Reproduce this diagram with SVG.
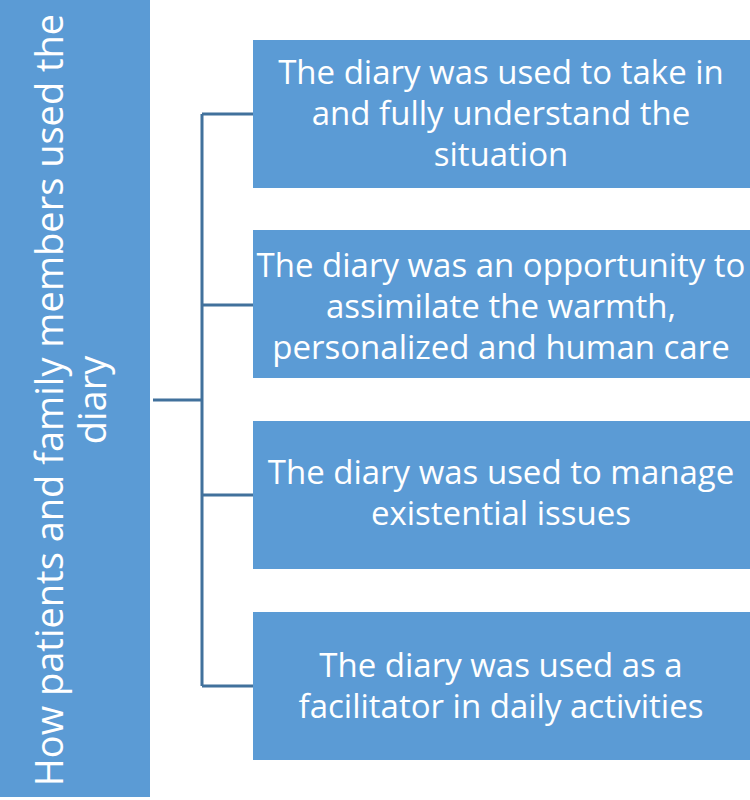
<svg xmlns="http://www.w3.org/2000/svg" width="750" height="800" viewBox="0 0 750 800">
<style>
.box{fill:#5B9BD5}
.t{fill:#FFFFFF;font-family:"Open Sans","Liberation Sans",sans-serif;font-size:33px;text-anchor:middle}
.tl{fill:#FFFFFF;font-family:"Open Sans","Liberation Sans",sans-serif;font-size:38px;text-anchor:middle}
.c{fill:none;stroke:#41719C;stroke-width:3}
</style>
<rect width="750" height="800" fill="#FFFFFF"/>
<g id="root">
<rect class="box" x="0" y="0" width="150" height="797"/>
<text class="tl" transform="translate(0,400) rotate(-90)"><tspan x="0" y="63">How patients and family members used the</tspan><tspan x="0" y="106">diary</tspan></text>
</g>
<g id="connectors">
<path class="c" d="M153,400 H202 M202,114 V686 M202,114 H253 M202,305 H253 M202,495 H253 M202,686 H253"/>
</g>
<g id="n1">
<rect class="box" x="253" y="40" width="497" height="148"/>
<text class="t"><tspan x="501" y="84">The diary was used to take in</tspan><tspan x="501" y="125">and fully understand the</tspan><tspan x="501" y="166">situation</tspan></text>
</g>
<g id="n2">
<rect class="box" x="253" y="230" width="497" height="148"/>
<text class="t"><tspan x="501" y="277">The diary was an opportunity to</tspan><tspan x="501" y="318">assimilate the warmth,</tspan><tspan x="501" y="359">personalized and human care</tspan></text>
</g>
<g id="n3">
<rect class="box" x="253" y="421" width="497" height="148"/>
<text class="t"><tspan x="501" y="484">The diary was used to manage</tspan><tspan x="501" y="525">existential issues</tspan></text>
</g>
<g id="n4">
<rect class="box" x="253" y="612" width="497" height="148"/>
<text class="t"><tspan x="501" y="677">The diary was used as a</tspan><tspan x="501" y="718">facilitator in daily activities</tspan></text>
</g>
</svg>
